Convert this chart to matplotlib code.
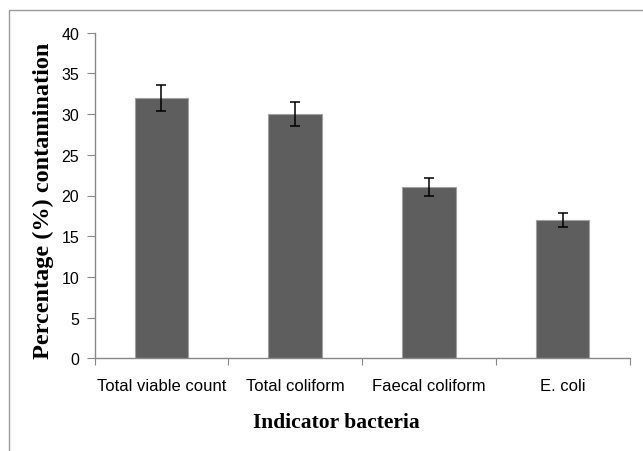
import matplotlib.pyplot as plt
from matplotlib.patches import Rectangle
import numpy as np

# Data
categories = ["Total viable count", "Total coliform", "Faecal coliform", "E. coli"]
values = [32.0, 30.0, 21.0, 17.0]
errors = [1.6, 1.5, 1.1, 0.9]
yticks = [0, 5, 10, 15, 20, 25, 30, 35, 40]

tick_font = ['Liberation Sans', 'DejaVu Sans']
label_font = ['Liberation Serif', 'DejaVu Serif']

fig = plt.figure(figsize=(6.43, 4.52), dpi=100)
ax = fig.add_axes([94.5 / 643, 1 - 359.3 / 452, 535 / 643, 325.6 / 452])

x = np.arange(len(categories))
ax.bar(x, values, width=0.4, color='#5e5e5e', edgecolor='#a0a0a0', linewidth=0.8,
       yerr=errors, capsize=3.3, error_kw=dict(ecolor='black', elinewidth=1.1, capthick=1.1))

ax.set_xlim(-0.5, 3.5)
ax.set_ylim(0, 40)
ax.set_yticks(yticks)
ax.set_xticks(np.arange(-0.5, 4.0, 1.0))
ax.set_xticklabels([])
ax.set_xticks(x, minor=True)
ax.set_xticklabels(categories, minor=True, family=tick_font, fontsize=12)
ax.tick_params(axis='x', which='minor', length=0, pad=14)
ax.tick_params(axis='x', which='major', length=5, color='#888888', direction='out')
ax.tick_params(axis='y', length=6, color='#888888', pad=5, labelsize=11.5)
for lbl in ax.get_yticklabels():
    lbl.set_family(tick_font)

for s in ['top', 'right']:
    ax.spines[s].set_visible(False)
for s in ['left', 'bottom']:
    ax.spines[s].set_color('#888888')
    ax.spines[s].set_linewidth(1.0)

fig.text(43 / 643, 1 - 201 / 452, "Percentage (%) contamination", rotation=90,
         ha='center', va='center', family=label_font, fontweight='bold', fontsize=17.5)
fig.text(336 / 643, 1 - 423 / 452, "Indicator bacteria",
         ha='center', va='center', family=label_font, fontweight='bold', fontsize=15.5)

# outer frame
fig.patches.append(Rectangle((9 / 643, -0.05), 1.0, 1 - 11 / 452 + 0.05, transform=fig.transFigure,
                             fill=False, edgecolor='#999999', linewidth=1.0))

plt.savefig("out.png", dpi=100)
plt.close()
